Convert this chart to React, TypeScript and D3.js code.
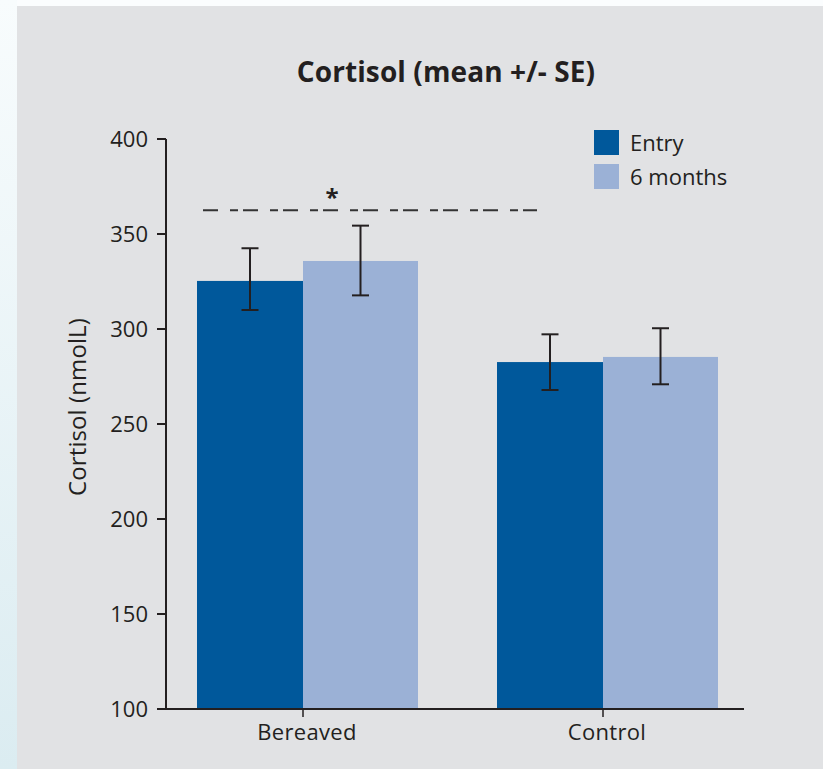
import React from "react";
import * as d3 from "d3";

const groups = ["Bereaved", "Control"];
const seriesNames = ["Entry", "6 months"];
const seriesColors = ["#00589b", "#9bb1d6"];
const entryMean = [325.3, 282.6];
const entryLow = [310.0, 267.9];
const entryHigh = [342.5, 297.2];
const sixMean = [335.8, 285.3];
const sixLow = [317.7, 270.9];
const sixHigh = [354.4, 300.4];
const yTicks = [100, 150, 200, 250, 300, 350, 400];
const sigValue = 362.5;

const W = 823;
const H = 769;
const FONT = "'Open Sans', 'Noto Sans', sans-serif";

export default function App() {
  const y = d3.scaleLinear().domain([100, 400]).range([709, 139]);
  const x = d3.scaleBand<string>().domain(groups).range([153, 753]).padding(0);
  const axisLeft = 166;
  const axisRight = 744;
  const y0 = y(100);
  const barExt: [number, number][] = [
    [-106, 0],
    [0, 115],
  ];
  const series = [
    { mean: entryMean, low: entryLow, high: entryHigh },
    { mean: sixMean, low: sixLow, high: sixHigh },
  ];
  const ink = "#231f20";
  const capHalf = 8.5;
  const sigLeft = x("Bereaved")! + x.bandwidth() / 2 - 100;
  const sigRight = x("Bereaved")! + x.bandwidth() / 2 + 234;

  return (
    <svg
      width={W}
      height={H}
      style={{ position: "absolute", left: 0, top: 0, display: "block" }}
    >
      <defs>
        <linearGradient id="edge" x1="0" y1="0" x2="0" y2="1">
          <stop offset="0" stopColor="#f8fcfd" />
          <stop offset="1" stopColor="#dbecf1" />
        </linearGradient>
      </defs>
      <rect x={0} y={0} width={W} height={H} fill="#fbfdfe" />
      <rect x={0} y={0} width={17} height={H} fill="url(#edge)" />
      <rect x={17} y={6} width={W - 17} height={H - 6} fill="#e1e2e4" />

      <text
        x={446}
        y={82}
        textAnchor="middle"
        fontFamily={FONT}
        fontWeight={700}
        fontSize={28}
        fill={ink}
        letterSpacing={0.1}
      >
        Cortisol (mean +/- SE)
      </text>

      {groups.map((g, gi) => {
        const cx = x(g)! + x.bandwidth() / 2;
        return series.map((s, si) => (
          <rect
            key={g + si}
            x={cx + barExt[si][0]}
            y={y(s.mean[gi])}
            width={barExt[si][1] - barExt[si][0]}
            height={y0 - y(s.mean[gi])}
            fill={seriesColors[si]}
          />
        ));
      })}

      {groups.map((g, gi) => {
        const cx = x(g)! + x.bandwidth() / 2;
        return series.map((s, si) => {
          const ex = cx + (barExt[si][0] + barExt[si][1]) / 2;
          return (
            <g key={"e" + g + si} stroke={ink} strokeWidth={2}>
              <line x1={ex} x2={ex} y1={y(s.high[gi])} y2={y(s.low[gi])} />
              <line x1={ex - capHalf} x2={ex + capHalf} y1={y(s.high[gi])} y2={y(s.high[gi])} />
              <line x1={ex - capHalf} x2={ex + capHalf} y1={y(s.low[gi])} y2={y(s.low[gi])} />
            </g>
          );
        });
      })}

      <line
        x1={sigLeft}
        x2={sigRight}
        y1={y(sigValue)}
        y2={y(sigValue)}
        stroke="#333"
        strokeWidth={2}
        strokeDasharray="15,12,8,5"
      />
      <text
        x={332}
        y={206}
        textAnchor="middle"
        fontFamily={FONT}
        fontWeight={700}
        fontSize={24}
        fill={ink}
      >
        *
      </text>

      <line x1={axisLeft} x2={axisLeft} y1={y(400)} y2={y0 + 1} stroke={ink} strokeWidth={2} />
      {yTicks.map((t) => (
        <g key={t}>
          <line x1={axisLeft - 9} x2={axisLeft} y1={y(t)} y2={y(t)} stroke={ink} strokeWidth={2} />
          <text
            x={148}
            y={y(t) + 8}
            textAnchor="end"
            fontFamily={FONT}
            fontSize={22}
            fill={ink}
          >
            {t}
          </text>
        </g>
      ))}

      <line x1={axisLeft - 1} x2={axisRight} y1={y0} y2={y0} stroke={ink} strokeWidth={2} />
      {groups.map((g) => {
        const cx = x(g)! + x.bandwidth() / 2;
        return (
          <g key={"xt" + g}>
            <line x1={cx} x2={cx} y1={y0} y2={y0 + 8} stroke={ink} strokeWidth={1.5} />
            <text
              x={cx + 4}
              y={740}
              textAnchor="middle"
              fontFamily={FONT}
              fontSize={22}
              fill={ink}
              letterSpacing={0.3}
            >
              {g}
            </text>
          </g>
        );
      })}

      <text
        transform={`translate(86, ${407}) rotate(-90)`}
        textAnchor="middle"
        fontFamily={FONT}
        fontSize={24}
        fill={ink}
        letterSpacing={0.1}
      >
        Cortisol (nmolL)
      </text>

      {seriesNames.map((n, i) => (
        <g key={n} transform={`translate(594, ${130 + i * 34})`}>
          <rect x={0} y={0} width={25} height={25} fill={seriesColors[i]} />
          <text x={36} y={21} fontFamily={FONT} fontSize={22} fill={ink}>
            {n}
          </text>
        </g>
      ))}
    </svg>
  );
}
